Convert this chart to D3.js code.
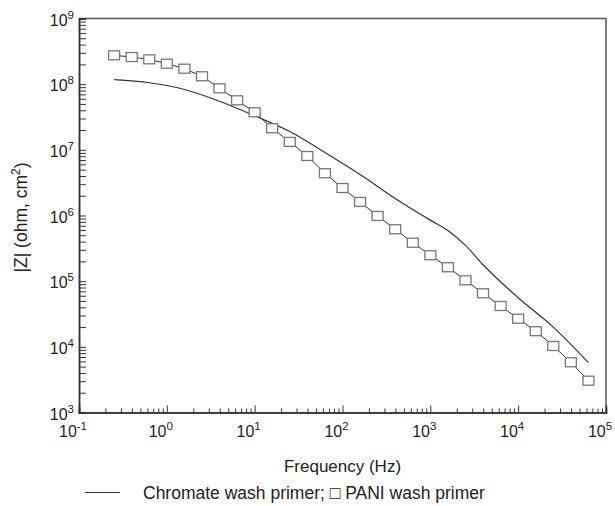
<!DOCTYPE html>
<html>
<head>
<meta charset="utf-8">
<script src="https://cdn.jsdelivr.net/npm/d3@7"></script>
<style>
  body { margin: 0; background: #fff; }
  text { font-family: Arial, "Liberation Sans", sans-serif; fill: #222; }
</style>
</head>
<body>
<div id="bode_chart"></div>
<script>
// PANI wash primer (squares), frequency in Hz and |Z| in ohm.cm2
const pani_freq = [0.251, 0.398, 0.631, 1.0, 1.585, 2.512, 3.981, 6.31, 10, 15.85, 25.12, 39.81, 63.1, 100,
  158.5, 251.2, 398.1, 631, 1000, 1585, 2512, 3981, 6310, 10000, 15850, 25120, 39810, 63100];
const pani_z = [2.75e8, 2.59e8, 2.39e8, 2.05e8, 1.72e8, 1.32e8, 8.65e7, 5.68e7, 3.73e7, 2.13e7, 1.32e7, 8.05e6,
  4.40e6, 2.62e6, 1.61e6, 9.84e5, 6.17e5, 3.85e5, 2.48e5, 1.63e5, 1.03e5, 6.53e4, 4.19e4, 2.68e4, 1.73e4,
  1.03e4, 5.82e3, 3.05e3];

// Chromate wash primer (solid line)
const chromate_freq = [0.251, 0.631, 1.585, 3.981, 10, 25.12, 63.1, 158.5, 398.1, 1000, 1585, 2512, 3981,
  10000, 25120, 63100];
const chromate_z = [1.17e8, 1.05e8, 8.3e7, 5.5e7, 3.3e7, 1.9e7, 9.1e6, 4.2e6, 1.82e6, 8.5e5, 5.9e5, 3.5e5,
  1.78e5, 5.6e4, 2.0e4, 5.75e3];

const x_decades = [-1, 0, 1, 2, 3, 4, 5];
const y_decades = [3, 4, 5, 6, 7, 8, 9];

const margin = {top: 18.5, right: 9, bottom: 93.5, left: 79},
    width = 615 - margin.left - margin.right,
    height = 506 - margin.top - margin.bottom;

const svg = d3.select("#bode_chart")
  .append("svg")
  .attr("width", 615)
  .attr("height", 506)
  .append("g")
  .attr("transform", `translate(${margin.left},${margin.top})`);

const x = d3.scaleLog()
  .domain([0.1, 1e5])
  .range([0, width]);

const y = d3.scaleLog()
  .domain([1e3, 1e9])
  .range([height, 0]);

// minor ticks 2..9 inside every decade
function minors(decades) {
  const out = [];
  decades.slice(0, -1).forEach(function (d) {
    for (let m = 2; m <= 9; m++) out.push(m * Math.pow(10, d));
  });
  return out;
}
const majors = function (decades) { return decades.map(function (d) { return Math.pow(10, d); }); };

// frame (top and right)
svg.append("path")
  .attr("d", `M0,0H${width}V${height}`)
  .attr("fill", "none")
  .attr("stroke", "#555")
  .attr("stroke-width", 1.5);

// X axis
const gx = svg.append("g")
  .attr("transform", `translate(0, ${height})`);
gx.append("g")
  .call(d3.axisBottom(x).tickValues(minors(x_decades)).tickSize(-4).tickFormat(""));
gx.append("g")
  .call(d3.axisBottom(x).tickValues(majors(x_decades)).tickSize(-7).tickFormat(""));
gx.selectAll(".domain").attr("stroke", "#333").attr("stroke-width", 1.5);
gx.selectAll(".tick line").attr("stroke", "#333");

// Y axis
const gy = svg.append("g");
gy.append("g")
  .call(d3.axisLeft(y).tickValues(minors(y_decades)).tickSize(-7).tickFormat(""));
gy.append("g")
  .call(d3.axisLeft(y).tickValues(majors(y_decades)).tickSize(-7).tickFormat(""));
gy.selectAll(".domain").attr("stroke", "#333").attr("stroke-width", 1.5);
gy.selectAll(".tick line").attr("stroke", "#333");

// tick labels with superscripts
const xl = svg.append("g").selectAll("text")
  .data(x_decades)
  .join("text")
    .attr("x", function (d) { return x(Math.pow(10, d)) - 6; })
    .attr("y", height + 24)
    .attr("text-anchor", "middle")
    .style("font-size", "16px");
xl.append("tspan").text("10");
xl.append("tspan").attr("dy", -7).style("font-size", "11.5px").text(function (d) { return d; });

const yl = svg.append("g").selectAll("text")
  .data(y_decades)
  .join("text")
    .attr("x", -5)
    .attr("y", function (d) { return y(Math.pow(10, d)) + 7; })
    .attr("text-anchor", "end")
    .style("font-size", "16px");
yl.append("tspan").text("10");
yl.append("tspan").attr("dy", -7).style("font-size", "11.5px").text(function (d) { return d; });

// axis titles
svg.append("text")
  .attr("x", width / 2)
  .attr("y", height + 59)
  .attr("text-anchor", "middle")
  .style("font-size", "17px")
  .text("Frequency (Hz)");

const yt = svg.append("text")
  .attr("transform", `translate(-52, ${height / 2 + 2}) rotate(-90)`)
  .attr("text-anchor", "middle")
  .style("font-size", "17.5px");
yt.append("tspan").text("|Z| (ohm, cm");
yt.append("tspan").attr("dy", -7).style("font-size", "12px").text("2");
yt.append("tspan").attr("dy", 7).text(")");

// Chromate line
svg.append("path")
  .datum(chromate_freq.map(function (f, i) { return [f, chromate_z[i]]; }))
  .attr("fill", "none")
  .attr("stroke", "#333")
  .attr("stroke-width", 1.2)
  .attr("d", d3.line()
    .curve(d3.curveMonotoneX)
    .x(function (d) { return x(d[0]); })
    .y(function (d) { return y(d[1]); })
  );

// PANI line with squares
const pani = pani_freq.map(function (f, i) { return [f, pani_z[i]]; });
svg.append("path")
  .datum(pani)
  .attr("fill", "none")
  .attr("stroke", "#333")
  .attr("stroke-width", 1)
  .attr("d", d3.line()
    .x(function (d) { return x(d[0]); })
    .y(function (d) { return y(d[1]); })
  );
svg.selectAll("rect.sq")
  .data(pani)
  .join("rect")
    .attr("class", "sq")
    .attr("x", function (d) { return x(d[0]) - 5.5; })
    .attr("y", function (d) { return y(d[1]) - 4.5; })
    .attr("width", 11)
    .attr("height", 9)
    .attr("fill", "#fff")
    .attr("stroke", "#777")
    .attr("stroke-width", 1.3);

// legend
svg.append("line")
  .attr("x1", 6).attr("x2", 41)
  .attr("y1", height + 80).attr("y2", height + 80)
  .attr("stroke", "#333")
  .attr("stroke-width", 1.2);
svg.append("text")
  .attr("x", 64)
  .attr("y", height + 86)
  .style("font-size", "17.5px")
  .text("Chromate wash primer; \u25A1 PANI wash primer");
</script>
</body>
</html>
